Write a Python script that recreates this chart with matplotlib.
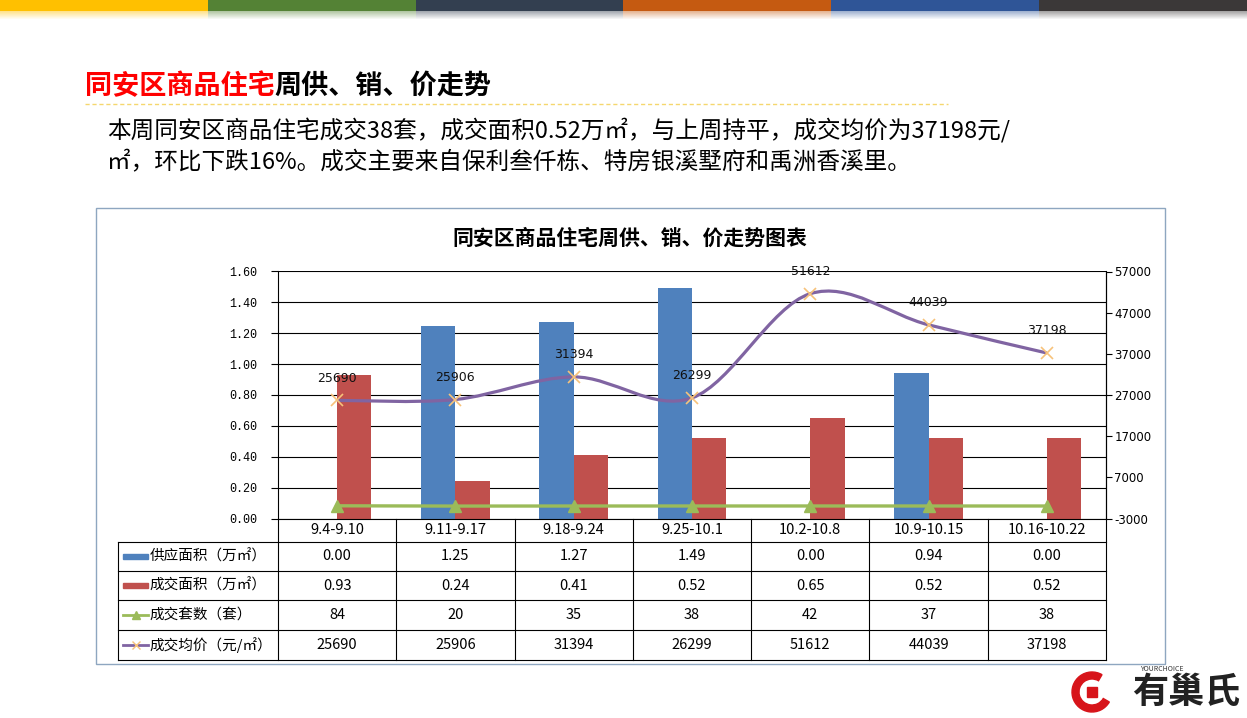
import numpy as np
import matplotlib
matplotlib.use("Agg")
import matplotlib.pyplot as plt
from matplotlib.path import Path
from matplotlib.patches import PathPatch, Rectangle, Wedge
from matplotlib.lines import Line2D

plt.rcParams['font.family'] = ['Noto Sans CJK SC', 'DejaVu Sans']

# ---- data ----
weeks = ["9.4-9.10", "9.11-9.17", "9.18-9.24", "9.25-10.1",
         "10.2-10.8", "10.9-10.15", "10.16-10.22"]
supply_area = [0.00, 1.25, 1.27, 1.49, 0.00, 0.94, 0.00]   # 万㎡
sold_area = [0.93, 0.24, 0.41, 0.52, 0.65, 0.52, 0.52]     # 万㎡
sold_units = [84, 20, 35, 38, 42, 37, 38]                  # 套
avg_price = [25690, 25906, 31394, 26299, 51612, 44039, 37198]  # 元/㎡

row_labels = ["供应面积（万㎡）", "成交面积（万㎡）", "成交套数（套）", "成交均价（元/㎡）"]
left_ticks = [0.0, 0.2, 0.4, 0.6, 0.8, 1.0, 1.2, 1.4, 1.6]
right_ticks = [-3000, 7000, 17000, 27000, 37000, 47000, 57000]

header_colors = ["#FFC000", "#548235", "#333F50", "#C55A11", "#2F5597", "#3B3838"]

BLUE = "#4F81BD"
RED = "#C0504D"
GREEN = "#9BBB59"
PURPLE = "#8064A2"
ORANGE = "#F7C27A"

W, H = 1247, 718
fig = plt.figure(figsize=(W / 100, H / 100), dpi=100)
fig.patch.set_facecolor("white")


def fx(x):
    return x / W


def fy(y):
    return 1 - y / H


# ---- top colour strip with fade ----
hax = fig.add_axes([0, fy(20), 1, 20 / H])
hax.axis("off")
strip = np.ones((20, 6 * 40, 4))
for i, c in enumerate(header_colors):
    rgb = matplotlib.colors.to_rgb(c)
    strip[:, i * 40:(i + 1) * 40, :3] = rgb
alpha = np.ones(20)
alpha[11:] = np.linspace(0.45, 0.0, 9)
strip[:, :, 3] = alpha[:, None]
hax.imshow(strip, aspect="auto", interpolation="nearest", extent=(0, 1, 1, 0))
hax.set_xlim(0, 1)
hax.set_ylim(1, 0)

# ---- heading ----
t1 = fig.text(fx(85), fy(86), "同安区商品住宅", color="#FF0000", fontsize=19.5,
              fontweight="bold", va="center", ha="left")
plt.annotate("周供、销、价走势", xy=(1, 0.5), xycoords=t1, va="center", ha="left",
             fontsize=19.5, fontweight="bold", color="black")
fig.add_artist(Line2D([fx(85), fx(948)], [fy(104), fy(104)], color="#F5D76E",
                      lw=1, ls=(0, (3, 2))))

fig.text(fx(107), fy(131), "本周同安区商品住宅成交38套，成交面积0.52万㎡，与上周持平，成交均价为37198元/",
         fontsize=17, va="center", ha="left", color="black")
fig.text(fx(107), fy(163), "㎡，环比下跌16%。成交主要来自保利叁仟栋、特房银溪墅府和禹洲香溪里。",
         fontsize=17, va="center", ha="left", color="black")

# ---- chart frame ----
fig.add_artist(Rectangle((fx(96), fy(664)), fx(1165 - 96), (664 - 208) / H,
                         fill=False, edgecolor="#8EA6C0", lw=1))
fig.text(fx(630), fy(238), "同安区商品住宅周供、销、价走势图表", fontsize=15,
         fontweight="bold", ha="center", va="center")

# ---- plot ----
ax = fig.add_axes([fx(278), fy(518.5), fx(1106 - 278), (518.5 - 271.5) / H])
x = np.arange(len(weeks))
bw = 0.29
ax.bar(x - bw / 2, supply_area, bw, color=BLUE, zorder=2)
ax.bar(x + bw / 2, sold_area, bw, color=RED, zorder=2)
ax.set_xlim(-0.5, len(weeks) - 0.5)
ax.set_ylim(0, 1.6)
ax.set_yticks(left_ticks)
ax.set_yticklabels(["%.2f" % v for v in left_ticks], family="Liberation Mono", fontsize=8.5)
ax.yaxis.grid(True, color="black", lw=0.8)
ax.set_axisbelow(True)
ax.set_xticks([])
ax.tick_params(axis="y", length=5, width=0.8, pad=10)
for s in ["left", "right", "bottom"]:
    ax.spines[s].set_linewidth(0.8)
ax.spines["top"].set_visible(False)

ax2 = ax.twinx()
ax2.set_ylim(-3000, 57000)
ax2.set_yticks(right_ticks)
ax2.set_yticklabels([str(v) for v in right_ticks], fontsize=8.5, family="DejaVu Sans")
ax2.tick_params(axis="y", length=4, width=0.8, pad=2)
for s in ["top", "left", "bottom"]:
    ax2.spines[s].set_visible(False)
ax2.spines["right"].set_linewidth(0.8)


def smooth_path(xs, ys):
    pts = np.column_stack([xs, ys]).astype(float)
    n = len(pts)
    verts = [pts[0]]
    codes = [Path.MOVETO]
    for i in range(n - 1):
        p0 = pts[i - 1] if i > 0 else pts[i]
        p1 = pts[i]
        p2 = pts[i + 1]
        p3 = pts[i + 2] if i + 2 < n else pts[i + 1]
        verts += [p1 + (p2 - p0) / 6, p2 - (p3 - p1) / 6, p2]
        codes += [Path.CURVE4] * 3
    return Path(verts, codes)


ax2.plot(x, sold_units, color=GREEN, lw=2.4, marker="^", ms=8, zorder=3)
ax2.add_patch(PathPatch(smooth_path(x, avg_price), fill=False, edgecolor=PURPLE,
                        lw=2.3, zorder=4))
ax2.plot(x, avg_price, ls="none", marker="x", ms=9, mew=1.2, color=ORANGE, zorder=5)
for xi, v in zip(x, avg_price):
    ax2.annotate(str(v), (xi, v), xytext=(0, 16), textcoords="offset points",
                 ha="center", va="center", fontsize=9, family="DejaVu Sans",
                 color="#111111")

# ---- data table ----
lw_cat = 160 / (828 / 7)
tax = fig.add_axes([fx(118), fy(660), fx(1106 - 118), (660 - 519) / H])
tax.axis("off")
left = -0.5 - lw_cat
tax.set_xlim(left, len(weeks) - 0.5)
tax.set_ylim(141, 0)
rows = [0, 23, 52, 81, 111, 141]
for r in rows[1:]:
    tax.plot([left, len(weeks) - 0.5], [r, r], color="black", lw=0.8, clip_on=False)
for k in range(len(weeks) + 1):
    tax.plot([k - 0.5, k - 0.5], [0, 141], color="black", lw=0.8, clip_on=False)
tax.plot([left, left], [23, 141], color="black", lw=0.8, clip_on=False)

for i, wk in enumerate(weeks):
    tax.text(i, 11.5, wk, ha="center", va="center", fontsize=10.5)

table_rows = [["%.2f" % v for v in supply_area],
              ["%.2f" % v for v in sold_area],
              [str(v) for v in sold_units],
              [str(v) for v in avg_price]]
for r, vals in enumerate(table_rows):
    yc = (rows[r + 1] + rows[r + 2]) / 2
    for i, s in enumerate(vals):
        tax.text(i, yc, s, ha="center", va="center", fontsize=10.5)
    tax.text(left + 0.27, yc, row_labels[r], ha="left", va="center", fontsize=10.5)
    k0, k1, kc = left + 0.042, left + 0.253, left + 0.148
    if r == 0:
        tax.add_patch(Rectangle((k0, yc - 2.5), k1 - k0, 5, color=BLUE))
    elif r == 1:
        tax.add_patch(Rectangle((k0, yc - 2.5), k1 - k0, 5, color=RED))
    elif r == 2:
        tax.plot([k0, k1], [yc, yc], color=GREEN, lw=2)
        tax.plot([kc], [yc], marker="^", ms=6, color=GREEN)
    else:
        tax.plot([k0, k1], [yc, yc], color=PURPLE, lw=2)
        tax.plot([kc], [yc], marker="x", ms=6, mew=1, color=ORANGE)

# ---- logo ----
lax = fig.add_axes([fx(1060), fy(714), fx(185), 48 / H])
lax.axis("off")
lax.set_xlim(0, 185)
lax.set_ylim(0, 48)
lax.set_aspect("equal")
lax.add_patch(Wedge((32, 22), 20, 60, 330, width=7, color="#D7141A"))
lax.add_patch(Rectangle((27, 17), 10, 10, color="#D7141A"))
lax.text(72, 22, "有巢氏", fontsize=26, fontweight="bold",
         ha="left", va="center", color="#222222")
lax.text(80, 45, "YOURCHOICE", fontsize=5, style="italic", ha="left", va="center",
         color="#333333")

fig.savefig("out.png", dpi=100)
